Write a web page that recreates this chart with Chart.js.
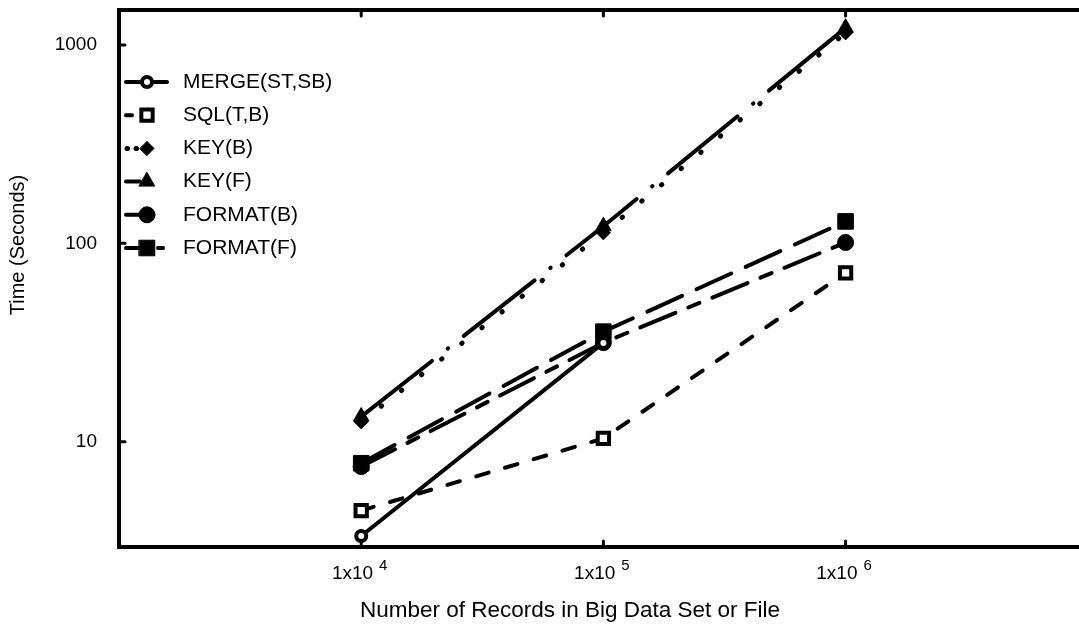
<!DOCTYPE html>
<html>
<head>
<meta charset="utf-8">
<script src="https://cdn.jsdelivr.net/npm/chart.js@4.4.1/dist/chart.umd.min.js"></script>
<style>
html, body { margin: 0; padding: 0; background: #fff; }
#wrap { width: 1079px; height: 628px; }
</style>
</head>
<body>
<div id="wrap"><canvas id="chart" width="1079" height="628"></canvas></div>
<script>
// records in big data set (x axis, log)
const records = [1e4, 1e5, 1e6];
const xTickPowers = ['4', '5', '6'];
const yTickValues = [10, 100, 1000];

// time in seconds
const mergeSTSB = [3.35, 31.5];
const sqlTB = [4.5, 10.4, 71];
const keyB = [12.6, 113, 1150];
const keyF = [13.4, 122, 1220];
const formatB = [7.5, 31.6, 101];
const formatF = [7.8, 35.9, 129];

const FAMILY = '"Liberation Sans", Arial, sans-serif';

function pts(vals) {
    return vals.map((v, i) => ({ x: records[i], y: v }));
}

// common look for every series
function series(label, vals, dash, style, radius, opts) {
    return Object.assign({
        label: label,
        data: pts(vals),
        borderColor: '#000',
        borderWidth: 4,
        borderDash: dash,
        borderCapStyle: 'round',
        pointStyle: style,
        pointRadius: radius,
        pointBorderWidth: 1,
        pointBackgroundColor: '#000',
        pointBorderColor: '#000',
        tension: 0
    }, opts || {});
}

const datasets = [
    series('MERGE(ST,SB)', mergeSTSB, [], 'circle', 5, { pointBorderWidth: 4, pointBackgroundColor: '#fff' }),
    series('SQL(T,B)', sqlTB, [13, 17], 'rect', 8, { pointBorderWidth: 4, pointBackgroundColor: '#fff' }),
    series('KEY(B)', keyB, [0.5, 25], 'rectRot', 7, { borderWidth: 5 }),
    series('KEY(F)', keyF, [90, 20, 0.5, 20], 'triangle', 9),
    series('FORMAT(B)', formatB, [38, 14, 12, 14], 'circle', 8),
    series('FORMAT(F)', formatF, [38, 16], 'rect', 11)
];

// legend line stubs either side of the marker: [x1, x2] pairs
const legendStubs = [
    [[126, 140], [153, 167]],
    [[126, 132]],
    [[127, 127.5], [136, 136.5]],
    [[126, 140]],
    [[126, 140]],
    [[126, 138], [158, 163]]
];

const xMin = 1000, xMax = 9.2e6, yMin = 2.95, yMax = 1500;

function line(ctx, x1, y1, x2, y2) {
    ctx.beginPath(); ctx.moveTo(x1, y1); ctx.lineTo(x2, y2); ctx.stroke();
}

// ticks, labels, titles and legend drawn on the library scales
const decorations = {
    id: 'decorations',
    afterDraw(chart) {
        const ctx = chart.ctx;
        const xs = chart.scales.x, ys = chart.scales.y, area = chart.chartArea;
        ctx.save();
        ctx.strokeStyle = '#000';
        ctx.fillStyle = '#000';
        ctx.lineWidth = 3;
        ctx.lineCap = 'round';

        records.forEach(v => {
            const px = xs.getPixelForValue(v);
            line(ctx, px, area.bottom, px, area.bottom - 6);
            line(ctx, px, area.top, px, area.top + 6);
        });
        yTickValues.forEach(v => {
            const py = ys.getPixelForValue(v);
            line(ctx, area.left, py, area.left + 6, py);
        });

        // y tick labels
        ctx.font = '19px ' + FAMILY;
        ctx.textBaseline = 'middle';
        ctx.textAlign = 'right';
        yTickValues.forEach(v => ctx.fillText(String(v), area.left - 22, ys.getPixelForValue(v)));

        // x tick labels 1x10^n
        records.forEach((v, i) => {
            const px = xs.getPixelForValue(v);
            ctx.font = '19px ' + FAMILY;
            const base = '1x10';
            const bw = ctx.measureText(base).width;
            ctx.font = '15px ' + FAMILY;
            const sw = ctx.measureText(xTickPowers[i]).width;
            const left = px - (bw + 5 + sw) / 2 - 2;
            ctx.textAlign = 'left';
            ctx.font = '19px ' + FAMILY;
            ctx.fillText(base, left, area.bottom + 27);
            ctx.font = '15px ' + FAMILY;
            ctx.fillText(xTickPowers[i], left + bw + 6, area.bottom + 19);
        });

        // axis titles
        ctx.textAlign = 'center';
        ctx.font = '22.5px ' + FAMILY;
        ctx.fillText('Number of Records in Big Data Set or File', 570, 611);
        ctx.save();
        ctx.font = '20px ' + FAMILY;
        ctx.translate(18, 245);
        ctx.rotate(-Math.PI / 2);
        ctx.fillText('Time (Seconds)', 0, 0);
        ctx.restore();

        // legend, inside the plot at the upper left
        chart.data.datasets.forEach((ds, i) => {
            const y = 82 + i * 33.2;
            ctx.save();
            ctx.lineWidth = ds.borderWidth;
            ctx.lineCap = 'round';
            legendStubs[i].forEach(s => line(ctx, s[0], y, s[1], y));
            ctx.restore();
            ctx.fillStyle = ds.pointBackgroundColor;
            ctx.strokeStyle = ds.pointBorderColor;
            ctx.lineWidth = ds.pointBorderWidth;
            Chart.helpers.drawPoint(ctx, {
                pointStyle: ds.pointStyle, radius: ds.pointRadius,
                borderWidth: ds.pointBorderWidth, rotation: 0
            }, 147, y);
            ctx.fillStyle = '#000';
            ctx.font = '21px ' + FAMILY;
            ctx.textAlign = 'left';
            ctx.fillText(ds.label, 183, y);
        });
        ctx.restore();
    }
};

function logAxis(position, min, max, size) {
    return {
        type: 'logarithmic',
        position: position,
        min: min,
        max: max,
        grid: { display: false },
        border: { display: true, width: 4, color: '#000' },
        ticks: { display: false },
        afterFit: s => {
            if (s.isHorizontal()) s.height = size; else s.width = size;
        }
    };
}

new Chart(document.getElementById('chart'), {
    type: 'line',
    data: { datasets: datasets },
    options: {
        responsive: false,
        animation: false,
        devicePixelRatio: 1,
        layout: { padding: 0, autoPadding: false },
        plugins: { legend: { display: false }, tooltip: { enabled: false } },
        scales: {
            x: logAxis('bottom', xMin, xMax, 81),
            xTop: logAxis('top', xMin, xMax, 10),
            y: logAxis('left', yMin, yMax, 119)
        }
    },
    plugins: [decorations]
});
</script>
</body>
</html>
